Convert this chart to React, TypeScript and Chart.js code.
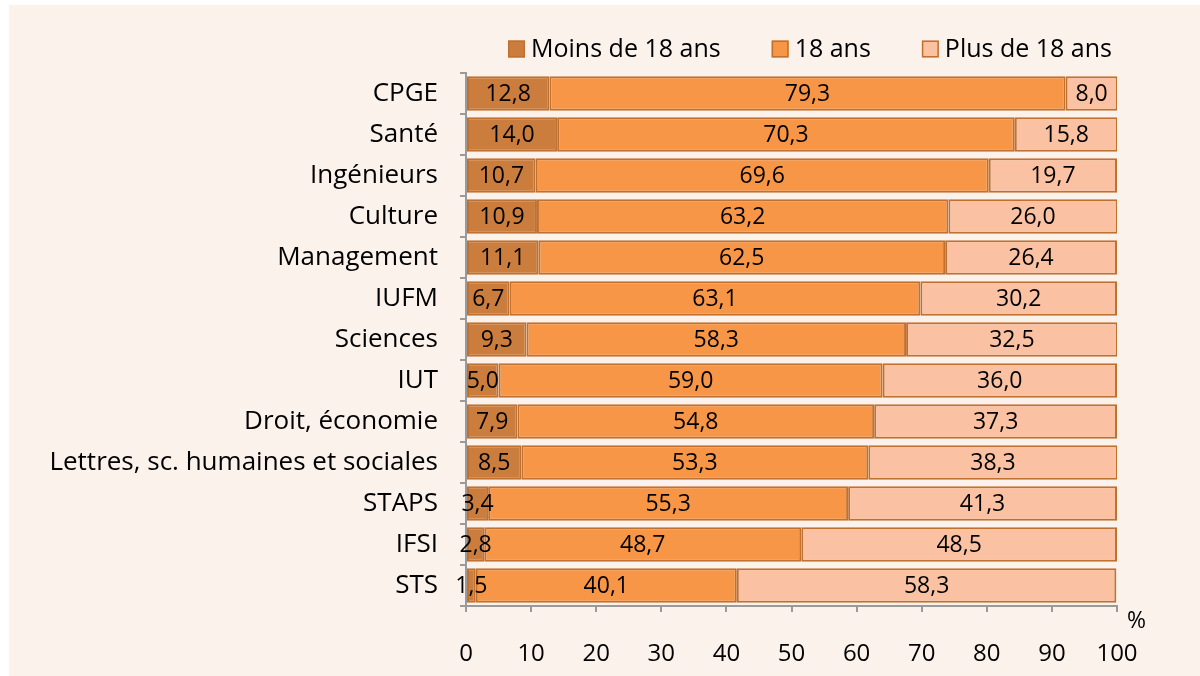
import React, { useEffect, useRef } from "react";
import { Chart, registerables } from "chart.js";

Chart.register(...registerables);

const categories = [
  "CPGE",
  "Santé",
  "Ingénieurs",
  "Culture",
  "Management",
  "IUFM",
  "Sciences",
  "IUT",
  "Droit, économie",
  "Lettres, sc. humaines et sociales",
  "STAPS",
  "IFSI",
  "STS",
];
const moins18 = [12.8, 14.0, 10.7, 10.9, 11.1, 6.7, 9.3, 5.0, 7.9, 8.5, 3.4, 2.8, 1.5];
const ans18 = [79.3, 70.3, 69.6, 63.2, 62.5, 63.1, 58.3, 59.0, 54.8, 53.3, 55.3, 48.7, 40.1];
const plus18 = [8.0, 15.8, 19.7, 26.0, 26.4, 30.2, 32.5, 36.0, 37.3, 38.3, 41.3, 48.5, 58.3];
const seriesNames = ["Moins de 18 ans", "18 ans", "Plus de 18 ans"];
const xTicks = [0, 10, 20, 30, 40, 50, 60, 70, 80, 90, 100];
const unitLabel = "%";

const FONT = "'Open Sans', Lato, sans-serif";
const BG = "#FCF2EC";
const BORDER = "#C0702F";

const fmt = (v: number) => v.toFixed(1).replace(".", ",");

const labelPlugin = {
  id: "segLabels",
  afterDatasetsDraw(chart: any) {
    const ctx = chart.ctx;
    ctx.save();
    ctx.font = `23px ${FONT}`;
    ctx.fillStyle = "#000";
    ctx.textAlign = "center";
    ctx.textBaseline = "middle";
    chart.data.datasets.forEach((ds: any, di: number) => {
      const meta = chart.getDatasetMeta(di);
      meta.data.forEach((el: any, i: number) => {
        const props = el.getProps(["x", "y", "base"], true);
        const cx = (props.x + props.base) / 2;
        ctx.fillText(fmt(ds.data[i]), cx, props.y + 1);
      });
    });
    const xs = chart.scales.x;
    ctx.font = `23px ${FONT}`;
    ctx.textAlign = "left";
    ctx.fillText(unitLabel, xs.right + 10, xs.top + 15);
    ctx.restore();
  },
};

const legendPlugin = {
  id: "customLegend",
  afterDraw(chart: any) {
    const ctx = chart.ctx;
    ctx.save();
    ctx.font = `25px ${FONT}`;
    ctx.textBaseline = "middle";
    ctx.textAlign = "left";
    const box = 17;
    const gapText = 6;
    const gapItem = 51;
    const ds = chart.data.datasets;
    const widths = ds.map((d: any) => ctx.measureText(d.label).width);
    let total = 0;
    widths.forEach((w: number, i: number) => {
      total += box + gapText + w + (i < widths.length - 1 ? gapItem : 0);
    });
    let x = chart.chartArea.right - 5 - total;
    const cy = 44;
    ds.forEach((d: any, i: number) => {
      ctx.fillStyle = d.backgroundColor;
      ctx.fillRect(x, cy - box / 2, box, box);
      ctx.strokeStyle = d.borderColor;
      ctx.lineWidth = 1.5;
      ctx.strokeRect(x + 0.75, cy - box / 2 + 0.75, box - 1.5, box - 1.5);
      ctx.fillStyle = "#000";
      ctx.fillText(d.label, x + box + gapText, cy + 1);
      x += box + gapText + widths[i] + gapItem;
    });
    ctx.restore();
  },
};

export default function App() {
  const ref = useRef<HTMLCanvasElement | null>(null);
  useEffect(() => {
    document.body.style.margin = "0";
    if (!ref.current) return;
    const colors = ["#CB7D3E", "#F79646", "#FAC1A2"];
    const chart = new Chart(ref.current, {
      type: "bar",
      data: {
        labels: categories,
        datasets: [moins18, ans18, plus18].map((d, k) => ({
          label: seriesNames[k],
          data: d,
          backgroundColor: colors[k],
          borderColor: BORDER,
          borderWidth: 2,
          borderSkipped: false,
          barPercentage: 0.84,
          categoryPercentage: 1,
        })),
      },
      options: {
        indexAxis: "y",
        animation: false,
        responsive: false,
        maintainAspectRatio: false,
        layout: { padding: { left: 0, right: 83, top: 68, bottom: 0 } },
        plugins: {
          tooltip: { enabled: false },
          legend: { display: false },
        },
        scales: {
          x: {
            stacked: true,
            min: 0,
            max: 100,
            afterBuildTicks: (s: any) => {
              s.ticks = xTicks.map((v) => ({ value: v }));
            },
            afterFit: (s: any) => {
              s.height = 70;
            },
            grid: {
              display: true,
              drawOnChartArea: false,
              drawTicks: true,
              tickLength: 6,
              color: "#9A9A9A",
              lineWidth: 2,
            },
            border: { display: true, color: "#9A9A9A", width: 2 },
            ticks: {
              font: { family: FONT, size: 24 },
              color: "#000",
              padding: 28,
            },
          },
          y: {
            stacked: true,
            offset: true,
            afterFit: (s: any) => {
              s.width = 457;
            },
            grid: {
              display: true,
              offset: true,
              drawOnChartArea: false,
              drawTicks: true,
              tickLength: 6,
              color: "#9A9A9A",
              lineWidth: 2,
            },
            border: { display: true, color: "#9A9A9A", width: 2 },
            ticks: {
              font: { family: FONT, size: 26 },
              color: "#000",
              padding: 22,
            },
          },
        },
      },
      plugins: [labelPlugin, legendPlugin],
    });
    return () => chart.destroy();
  }, []);
  return (
    <div
      style={{
        position: "absolute",
        left: 9,
        top: 5,
        width: 1191,
        height: 671,
        background: BG,
      }}
    >
      <canvas ref={ref} width={1191} height={671} />
    </div>
  );
}
